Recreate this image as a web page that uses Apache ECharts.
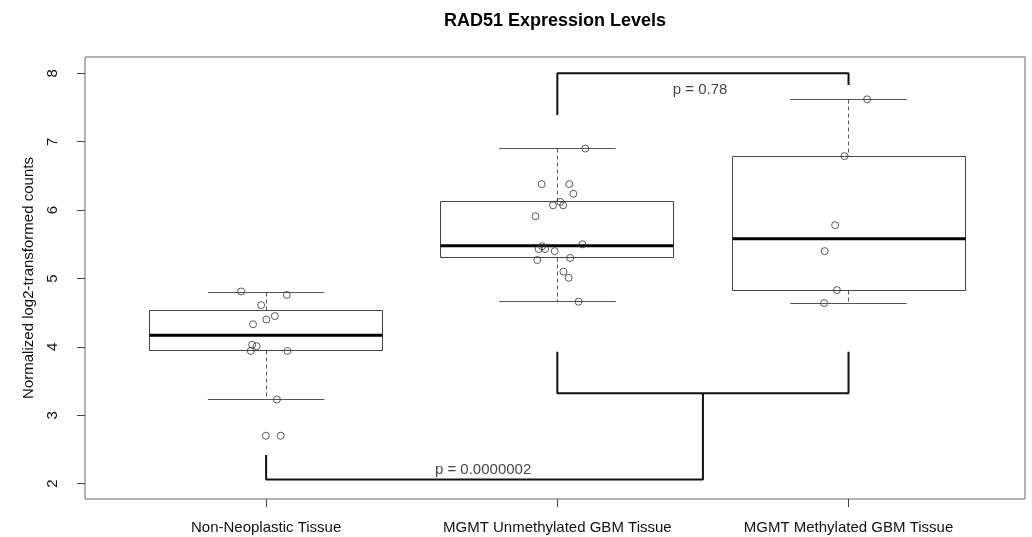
<!DOCTYPE html>
<html>
<head>
<meta charset="utf-8">
<script src="https://cdn.jsdelivr.net/npm/echarts@6/dist/echarts.min.js"></script>
<style>
html,body{margin:0;padding:0;background:#fff;}
#chart{width:1032px;height:537px;}
</style>
</head>
<body>
<div id="chart"></div>
<script>
// ---- data ----
const titleText = 'RAD51 Expression Levels';
const yAxisTitle = 'Normalized log2-transformed counts';
const categories = ['Non-Neoplastic Tissue', 'MGMT Unmethylated GBM Tissue', 'MGMT Methylated GBM Tissue'];
const xTicks = [1, 2, 3];
const yTicks = [2, 3, 4, 5, 6, 7, 8];

// box stats: [lower whisker, Q1, median, Q3, upper whisker]
const boxNonNeo = [3.23, 3.94, 4.17, 4.53, 4.80];
const boxUnmeth = [4.66, 5.30, 5.48, 6.12, 6.90];
const boxMeth   = [4.64, 4.83, 5.58, 6.79, 7.62];

// individual (jittered) points
const ptsNonNeo = [4.81, 4.76, 4.61, 4.45, 4.40, 4.33, 4.03, 4.01, 3.94, 3.94, 3.23, 2.70, 2.70];
const jitNonNeo = [-0.086, 0.071, -0.017, 0.030, 0.001, -0.045, -0.048, -0.033, -0.053, 0.073, 0.037, -0.001, 0.050];
const ptsUnmeth = [6.90, 6.38, 6.38, 6.24, 6.12, 6.07, 6.07, 5.91, 5.50, 5.47, 5.43, 5.43, 5.40, 5.30, 5.27, 5.10, 5.01, 4.66];
const jitUnmeth = [0.096, -0.054, 0.041, 0.055, 0.010, -0.015, 0.020, -0.075, 0.086, -0.052, -0.064, -0.042, -0.009, 0.044, -0.069, 0.021, 0.039, 0.073];
const ptsMeth   = [7.62, 6.79, 5.78, 5.40, 4.83, 4.64];
const jitMeth   = [0.064, -0.014, -0.046, -0.082, -0.040, -0.084];

// significance brackets
const bracketTop    = [[2, 7.39], [2, 8.0], [3, 8.0], [3, 7.83]];
const bracketLow1   = [[1, 2.42], [1, 2.06], [2.5, 2.06], [2.5, 3.32]];
const bracketLow2   = [[2, 3.93], [2, 3.32], [3, 3.32], [3, 3.93]];
const pLabels = [[2.49, 7.756, 'p = 0.78'], [1.745, 2.205, 'p = 0.0000002']];

// ---- chart ----
const FONT = '"Liberation Sans", Arial, Helvetica, sans-serif';
const boxes = [boxNonNeo, boxUnmeth, boxMeth].map((b, i) => [xTicks[i]].concat(b));
function pts(vals, jit, c) { return vals.map((v, i) => [c + jit[i], v]); }
const points = [].concat(
  pts(ptsNonNeo, jitNonNeo, 1),
  pts(ptsUnmeth, jitUnmeth, 2),
  pts(ptsMeth, jitMeth, 3)
);

const BOX_HALF = 0.4, CAP_HALF = 0.2;
function crisp(v) { return Math.round(v - 0.5) + 0.5; }
function renderBox(params, api) {
  const x = api.value(0);
  const lo = api.value(1), q1 = api.value(2), md = api.value(3), q3 = api.value(4), hi = api.value(5);
  const tl = api.coord([x - BOX_HALF, q3]);
  const br = api.coord([x + BOX_HALF, q1]);
  const mL = api.coord([x - BOX_HALF, md]);
  const mR = api.coord([x + BOX_HALF, md]);
  const cx = crisp(api.coord([x, md])[0]);
  const yHi = crisp(api.coord([x, hi])[1]);
  const yLo = crisp(api.coord([x, lo])[1]);
  const capL = api.coord([x - CAP_HALF, hi])[0];
  const capR = api.coord([x + CAP_HALF, hi])[0];
  const x0 = crisp(tl[0]), x1 = crisp(br[0]), y0 = crisp(tl[1]), y1 = crisp(br[1]);
  const grey = '#555';
  return {
    type: 'group',
    children: [
      {type: 'line', shape: {x1: cx, y1: yHi, x2: cx, y2: y0}, style: {stroke: grey, lineWidth: 1, lineDash: [4, 3]}},
      {type: 'line', shape: {x1: cx, y1: y1, x2: cx, y2: yLo}, style: {stroke: grey, lineWidth: 1, lineDash: [4, 3]}},
      {type: 'line', shape: {x1: capL, y1: yHi, x2: capR, y2: yHi}, style: {stroke: grey, lineWidth: 1}},
      {type: 'line', shape: {x1: capL, y1: yLo, x2: capR, y2: yLo}, style: {stroke: grey, lineWidth: 1}},
      {type: 'rect', shape: {x: x0, y: y0, width: x1 - x0, height: y1 - y0}, style: {fill: 'none', stroke: '#444', lineWidth: 1}},
      {type: 'line', shape: {x1: x0, y1: mL[1], x2: x1, y2: mR[1]}, style: {stroke: '#000', lineWidth: 3}}
    ]
  };
}

const bracketStyle = {color: '#111', width: 2};
function bracketSeries(data) {
  return {type: 'line', data: data, symbol: 'none', silent: true, lineStyle: bracketStyle, z: 4, animation: false};
}

const chart = echarts.init(document.getElementById('chart'), null, {renderer: 'canvas'});
chart.setOption({
  animation: false,
  backgroundColor: '#fff',
  textStyle: {fontFamily: FONT},
  title: {
    text: titleText,
    left: 555, top: 12, padding: 0, textAlign: 'center',
    textStyle: {fontFamily: FONT, fontSize: 18, fontWeight: 'bold', color: '#000'}
  },
  grid: {left: 85, right: 7, top: 57, bottom: 38, show: true, borderColor: '#666', borderWidth: 1, containLabel: false},
  xAxis: {
    type: 'value', min: 0.378, max: 3.606,
    splitLine: {show: false},
    axisLine: {show: false},
    axisTick: {show: true, customValues: xTicks, length: 8, lineStyle: {color: '#444'}},
    axisLabel: {
      customValues: xTicks, margin: 21, fontSize: 15, color: '#111', fontFamily: FONT,
      formatter: v => categories[Math.round(v) - 1] || ''
    }
  },
  yAxis: {
    type: 'value', min: 1.775, max: 8.239,
    splitLine: {show: false},
    axisLine: {show: false},
    axisTick: {show: true, customValues: yTicks, length: 8, lineStyle: {color: '#444'}},
    axisLabel: {customValues: yTicks, rotate: 90, margin: 25, fontSize: 15, color: '#111', fontFamily: FONT},
    name: yAxisTitle, nameLocation: 'middle', nameRotate: 90, nameGap: 49,
    nameTextStyle: {fontSize: 15, color: '#111', fontFamily: FONT}
  },
  series: [
    {type: 'custom', data: boxes, renderItem: renderBox, encode: {x: 0, y: [1, 2, 3, 4, 5]}, z: 2, silent: true},
    {
      type: 'scatter', data: points, symbol: 'circle', symbolSize: 7, z: 3, silent: true,
      itemStyle: {color: 'rgba(0,0,0,0)', borderColor: '#333', borderWidth: 1}
    },
    bracketSeries(bracketTop),
    bracketSeries(bracketLow1),
    bracketSeries(bracketLow2),
    {
      type: 'scatter', data: pLabels, symbolSize: 0, silent: true, z: 5,
      label: {show: true, position: 'inside', formatter: p => p.value[2], fontSize: 15, color: '#111', fontFamily: FONT}
    }
  ]
});
</script>
</body>
</html>
